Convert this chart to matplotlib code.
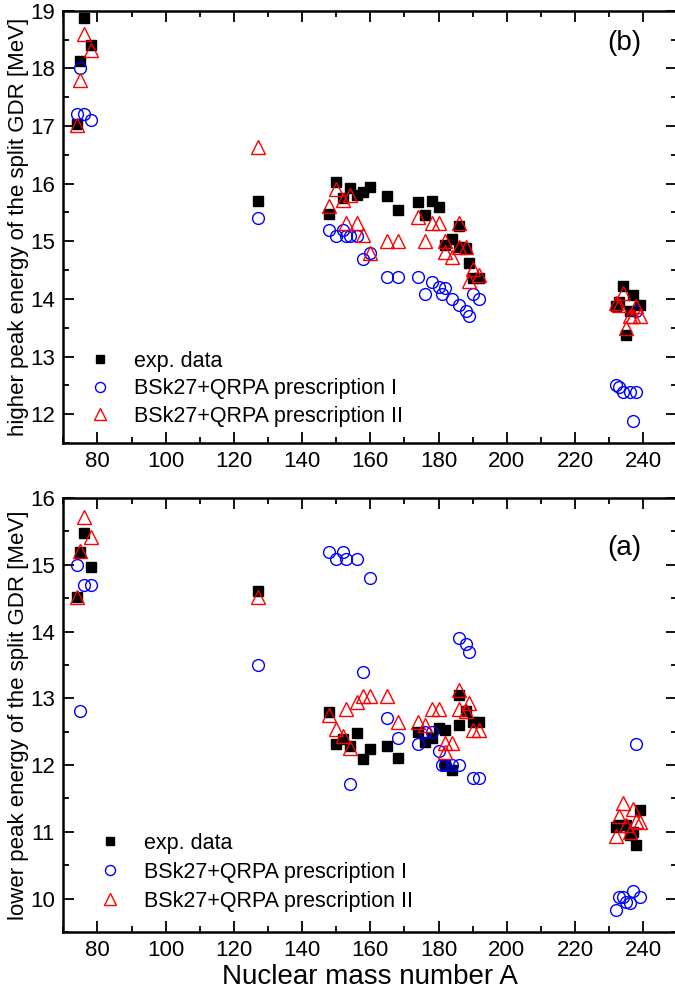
import matplotlib
matplotlib.use("Agg")
import matplotlib.pyplot as plt
from matplotlib.ticker import MultipleLocator

plt.rcParams['font.family'] = ['Liberation Sans', 'DejaVu Sans']

# (b) higher peak energy
hi_exp_A = [74, 75, 76, 78, 127, 148, 150, 152, 154, 156, 158, 160, 165, 168, 174, 176, 178, 180,
            182, 184, 186, 186, 188, 189, 190, 192, 232, 233, 234, 235, 236, 237, 239]
hi_exp_E = [17.03, 18.12, 18.87, 18.4, 15.7, 15.48, 16.03, 15.75, 15.93, 15.8, 15.85, 15.95, 15.78, 15.55,
            15.68, 15.46, 15.7, 15.6, 14.94, 15.04, 15.26, 14.9, 14.89, 14.63, 14.37, 14.37,
            13.88, 13.95, 14.22, 13.38, 13.79, 14.06, 13.9]
hi_p1_A = [74, 75, 76, 78, 127, 148, 150, 152, 153, 154, 156, 158, 160, 165, 168, 174, 176, 178, 180,
           181, 182, 184, 186, 188, 189, 190, 192, 232, 233, 234, 236, 237, 238, 238]
hi_p1_E = [17.2, 18.0, 17.2, 17.1, 15.4, 15.19, 15.09, 15.19, 15.09, 15.09, 15.09, 14.7, 14.8, 14.38, 14.38,
           14.38, 14.09, 14.29, 14.2, 14.09, 14.19, 13.99, 13.89, 13.79, 13.7, 14.09, 13.99,
           12.5, 12.47, 12.39, 12.39, 11.88, 13.79, 12.39]
hi_p2_A = [74, 75, 76, 78, 127, 148, 150, 152, 153, 154, 156, 158, 160, 165, 168, 174, 176, 178, 180,
           182, 182, 184, 186, 186, 188, 189, 190, 192, 232, 233, 234, 235, 236, 237, 238, 239]
hi_p2_E = [17.02, 17.8, 18.6, 18.32, 16.63, 15.62, 15.91, 15.71, 15.32, 15.81, 15.32, 15.1, 14.8, 15.0, 15.0,
           15.42, 15.0, 15.32, 15.32, 15.0, 14.81, 14.73, 15.32, 14.9, 14.9, 14.31, 14.52, 14.42,
           13.93, 13.9, 14.1, 13.5, 13.7, 13.7, 13.88, 13.7]

# (a) lower peak energy
lo_exp_A = [74, 75, 76, 78, 127, 148, 150, 152, 154, 156, 158, 160, 165, 168, 174, 176, 178, 180,
            182, 182, 184, 186, 186, 188, 190, 192, 232, 233, 235, 236, 237, 238, 239]
lo_exp_E = [14.52, 15.19, 15.48, 14.97, 14.6, 12.8, 12.31, 12.39, 12.29, 12.48, 12.09, 12.24, 12.29, 12.1,
            12.5, 12.34, 12.41, 12.56, 12.53, 12.0, 11.93, 13.05, 12.6, 12.81, 12.65, 12.65,
            11.08, 11.1, 11.1, 10.95, 11.0, 10.8, 11.33]
lo_p1_A = [74, 75, 76, 78, 127, 148, 150, 152, 153, 154, 156, 158, 160, 165, 168, 174, 176, 178, 180,
           181, 182, 184, 186, 186, 188, 189, 190, 192, 232, 233, 234, 235, 236, 237, 238, 239]
lo_p1_E = [15.0, 12.81, 14.69, 14.69, 13.5, 15.19, 15.09, 15.19, 15.09, 11.72, 15.09, 13.4, 14.8, 12.7, 12.4,
           12.31, 12.5, 12.5, 12.21, 12.0, 12.0, 12.0, 12.0, 13.91, 13.81, 13.7, 11.81, 11.81,
           9.83, 10.02, 10.02, 9.95, 9.93, 10.12, 12.31, 10.02]
lo_p2_A = [74, 75, 76, 78, 127, 148, 150, 152, 153, 154, 156, 158, 160, 165, 168, 174, 176, 178, 180,
           182, 182, 184, 186, 186, 188, 189, 190, 192, 232, 233, 234, 235, 236, 237, 238, 239]
lo_p2_E = [14.52, 15.21, 15.71, 15.41, 14.52, 12.75, 12.54, 12.44, 12.84, 12.25, 12.94, 13.04, 13.04, 13.04,
           12.64, 12.64, 12.6, 12.84, 12.84, 12.33, 12.2, 12.33, 13.13, 12.84, 12.81, 12.93, 12.53, 12.53,
           10.94, 11.24, 11.43, 11.1, 11.0, 11.34, 11.16, 11.15]

labels = ['exp. data', 'BSk27+QRPA prescription I', 'BSk27+QRPA prescription II']

fig = plt.figure(figsize=(6.75, 10.02), dpi=100)
ax_b = fig.add_axes([63.3 / 675, 1 - 443 / 1002, 614 / 675, 432.3 / 1002])
ax_a = fig.add_axes([63.3 / 675, 1 - 932 / 1002, 614 / 675, 434 / 1002])


def draw(ax, exp_A, exp_E, p1_A, p1_E, p2_A, p2_E, ylim, ylabel, tag, tag_y, leg_pos, spacing):
    ax.plot(exp_A, exp_E, 's', color='black', ms=7.5, label=labels[0])
    ax.plot(p1_A, p1_E, 'o', mfc='none', mec='blue', mew=1.0, ms=8.5, label=labels[1])
    ax.plot(p2_A, p2_E, '^', mfc='none', mec='red', mew=1.0, ms=9.5, label=labels[2])
    ax.set_xlim(70, 250)
    ax.set_ylim(*ylim)
    ax.xaxis.set_major_locator(MultipleLocator(20))
    ax.xaxis.set_minor_locator(MultipleLocator(10))
    ax.yaxis.set_major_locator(MultipleLocator(1))
    ax.yaxis.set_minor_locator(MultipleLocator(0.5))
    ax.tick_params(which='both', direction='in', top=True, right=True, labelsize=16, width=1.3, pad=6)
    ax.tick_params(which='major', length=8)
    ax.tick_params(which='minor', length=4.5)
    for s in ax.spines.values():
        s.set_linewidth(1.8)
    ax.set_ylabel(ylabel, fontsize=16)
    ax.yaxis.set_label_coords(-0.056, 0.5)
    ax.text(0.913, tag_y, tag, transform=ax.transAxes, fontsize=20, ha='center', va='center')
    ax.legend(loc='upper left', bbox_to_anchor=leg_pos, frameon=False, fontsize=15.5,
              handlelength=1.0, handletextpad=1.1, labelspacing=spacing, borderpad=0,
              borderaxespad=0, numpoints=1, markerscale=0.85)


draw(ax_b, hi_exp_A, hi_exp_E, hi_p1_A, hi_p1_E, hi_p2_A, hi_p2_E, (11.5, 19),
     'higher peak energy of the split GDR [MeV]', '(b)', 0.925, (0.042, 0.213), 0.3)
draw(ax_a, lo_exp_A, lo_exp_E, lo_p1_A, lo_p1_E, lo_p2_A, lo_p2_E, (9.5, 16),
     'lower peak energy of the split GDR [MeV]', '(a)', 0.885, (0.058, 0.229), 0.38)
ax_a.set_xlabel('Nuclear mass number A', fontsize=20, labelpad=2)

fig.savefig('out.png', dpi=100)
